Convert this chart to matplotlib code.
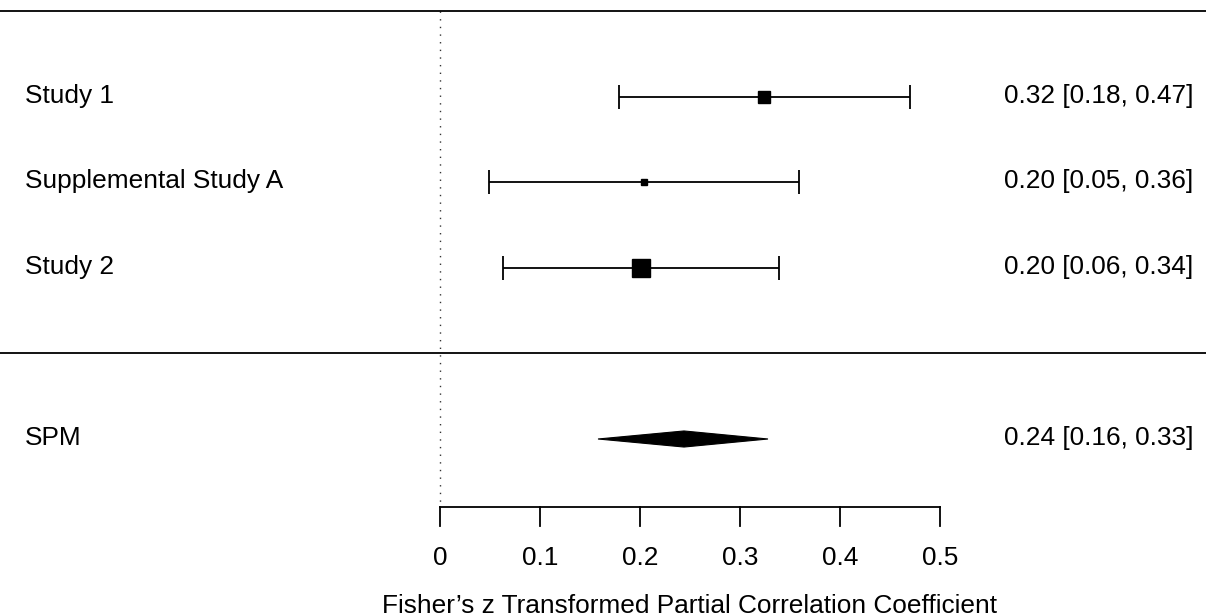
import matplotlib.pyplot as plt
from matplotlib.patches import Polygon

plt.rcParams['font.family'] = ['Liberation Sans', 'DejaVu Sans']

# study data (Fisher's z, 95% CI)
studies = ['Study 1', 'Supplemental Study A', 'Study 2']
est = [0.324, 0.204, 0.201]
ci_lo = [0.179, 0.049, 0.063]
ci_hi = [0.470, 0.359, 0.339]
rows = [3, 2, 1]

# summary estimate
summ_label = 'SPM'
summ_est = 0.244
summ_lo = 0.158
summ_hi = 0.328
summ_row = -1

xticks = [0, 0.1, 0.2, 0.3, 0.4, 0.5]
xlabel = "Fisher\u2019s z Transformed Partial Correlation Coefficient"

# box sizes in points (proportional to weights)
box_size = [8.3, 4.3, 12.7]

fig = plt.figure(figsize=(12.06, 6.16), dpi=100)
ax = fig.add_axes([0, 0, 1, 1])
ax.set_xlim(-0.44, 0.766)
ax.set_ylim(-3.07, 4.134)
ax.axis('off')

fs = 18.9
lab_x = -0.415
ann_x = 0.753
base_off = 0.07  # baseline sits a little below the row centre

# reference line at zero
ax.plot([0, 0], [4, -1.8], color='#333333', lw=1, ls=(0, (1, 4.5)))

# top line and separator
ax.axhline(4, color='black', lw=1.3)
ax.axhline(0, color='black', lw=1.3)

for i in range(len(studies)):
    ax.errorbar(est[i], rows[i], xerr=[[est[i] - ci_lo[i]], [ci_hi[i] - est[i]]],
                fmt='none', ecolor='black', elinewidth=1.3, capsize=8.5, capthick=1.3)
    ax.plot(est[i], rows[i], marker='s', color='black', markersize=box_size[i],
            linestyle='none')
    ax.text(lab_x, rows[i] - base_off, studies[i], fontsize=fs, va='baseline', ha='left')
    ax.text(ann_x, rows[i] - base_off, f'{est[i]:.2f} [{ci_lo[i]:.2f}, {ci_hi[i]:.2f}]',
            fontsize=fs, va='baseline', ha='right')

h = 0.094
diamond = Polygon([[summ_lo, summ_row], [summ_est, summ_row + h],
                   [summ_hi, summ_row], [summ_est, summ_row - h]],
                  closed=True, facecolor='black', edgecolor='black', lw=0.8)
ax.add_patch(diamond)
ax.text(lab_x, summ_row - base_off, summ_label, fontsize=fs, va='baseline', ha='left')
ax.text(ann_x, summ_row - base_off, f'{summ_est:.2f} [{summ_lo:.2f}, {summ_hi:.2f}]',
        fontsize=fs, va='baseline', ha='right')

# x axis drawn by hand at the bottom of the plot region
axis_y = -1.8
ax.plot([xticks[0], xticks[-1]], [axis_y, axis_y], color='black', lw=1.3)
for t in xticks:
    ax.plot([t, t], [axis_y, axis_y - 0.22], color='black', lw=1.3)
    ax.text(t, -2.474, f'{t:g}', fontsize=fs, ha='center', va='baseline')
ax.text(0.25, -3.035, xlabel, fontsize=fs, ha='center', va='baseline')

fig.savefig('out.png', dpi=100)
